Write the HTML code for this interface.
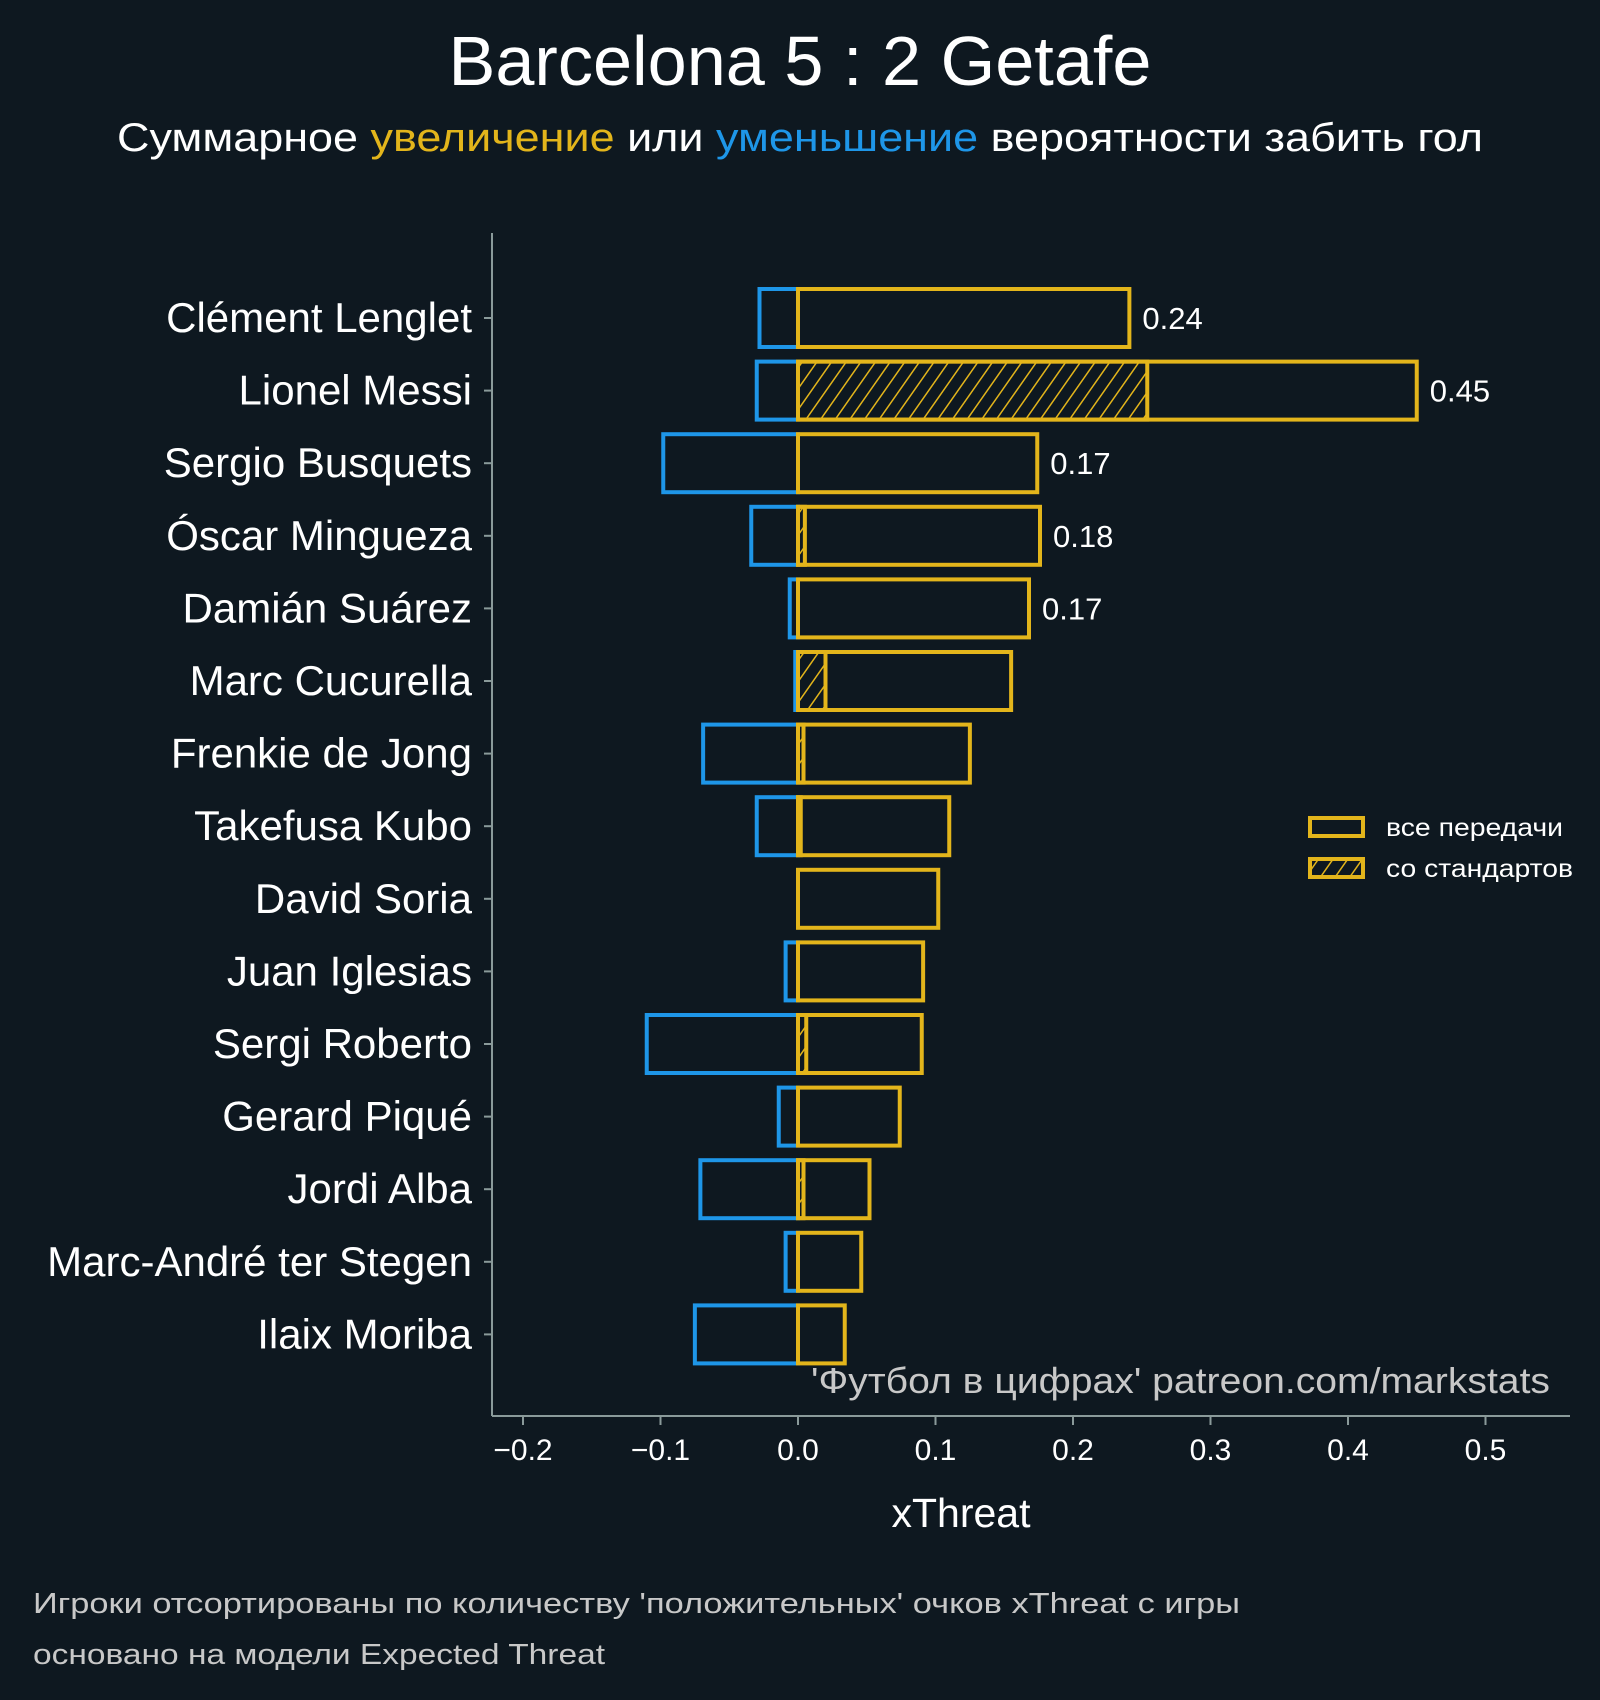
<!DOCTYPE html>
<html><head><meta charset="utf-8"><style>
body{margin:0;background:#0e1820;}
svg{display:block;font-family:"Liberation Sans",sans-serif;}
</style></head><body>
<svg id="chart" width="1600" height="1700" viewBox="0 0 1600 1700" xmlns="http://www.w3.org/2000/svg">
<defs>
<pattern id="hatch" patternUnits="userSpaceOnUse" width="12" height="12" patternTransform="rotate(35)">
<line x1="0" y1="0" x2="0" y2="12" stroke="#e3b51b" stroke-width="3"/>
</pattern>
</defs>
<rect width="1600" height="1700" fill="#0e1820"/>
<text x="800" y="85" text-anchor="middle" fill="#ffffff" font-size="70" textLength="703" lengthAdjust="spacingAndGlyphs">Barcelona 5 : 2 Getafe</text>
<text x="800" y="151" text-anchor="middle" fill="#ffffff" font-size="40" textLength="1366" lengthAdjust="spacingAndGlyphs">Суммарное <tspan fill="#e3b51b">увеличение</tspan> или <tspan fill="#1e96e8">уменьшение</tspan> вероятности забить гол</text>
<g id="plot"></g>
<line x1="492" y1="233" x2="492" y2="1416" stroke="#8a9a9a" stroke-width="2"/>
<line x1="492" y1="1416" x2="1570" y2="1416" stroke="#8a9a9a" stroke-width="2"/>
<text x="1550" y="1393" text-anchor="end" fill="#c8c8c8" font-size="36" textLength="739" lengthAdjust="spacingAndGlyphs">'Футбол в цифрах' patreon.com/markstats</text>
<text x="961" y="1527" text-anchor="middle" fill="#ffffff" font-size="41">xThreat</text>
<text x="33" y="1613" fill="#c8c8c8" font-size="29" textLength="1207" lengthAdjust="spacingAndGlyphs">Игроки отсортированы по количеству 'положительных' очков xThreat с игры</text>
<text x="33" y="1664" fill="#c8c8c8" font-size="29" textLength="572" lengthAdjust="spacingAndGlyphs">основано на модели Expected Threat</text>
<g>
<rect x="1310" y="818" width="53" height="18" fill="none" stroke="#e3b51b" stroke-width="4"/>
<text x="1386" y="836" fill="#ffffff" font-size="25" textLength="177" lengthAdjust="spacingAndGlyphs">все передачи</text>
<rect x="1310" y="859" width="53" height="18" fill="url(#hatch)" stroke="#e3b51b" stroke-width="4"/>
<text x="1386" y="877" fill="#ffffff" font-size="25" textLength="187" lengthAdjust="spacingAndGlyphs">со стандартов</text>
</g>
</svg>
<script>
const players=["Clément Lenglet","Lionel Messi","Sergio Busquets","Óscar Mingueza","Damián Suárez","Marc Cucurella","Frenkie de Jong","Takefusa Kubo","David Soria","Juan Iglesias","Sergi Roberto","Gerard Piqué","Jordi Alba","Marc-André ter Stegen","Ilaix Moriba"];
const positive=[0.241,0.450,0.174,0.176,0.168,0.155,0.125,0.110,0.102,0.091,0.090,0.074,0.052,0.046,0.034];
const negative=[-0.028,-0.030,-0.098,-0.034,-0.006,-0.002,-0.069,-0.030,0,-0.009,-0.110,-0.014,-0.071,-0.009,-0.075];
const setPieces=[0,0.254,0,0.005,0,0.020,0.004,0.002,0,0,0.006,0,0.004,0,0];
const labels=["0.24","0.45","0.17","0.18","0.17","","","","","","","","","",""];
const ticks=[-0.2,-0.1,0.0,0.1,0.2,0.3,0.4,0.5];
const tickLabels=["−0.2","−0.1","0.0","0.1","0.2","0.3","0.4","0.5"];

const NS="http://www.w3.org/2000/svg";
const g=document.getElementById('plot');
const xs=v=>798+v*1375;
const ys=i=>318+i*72.6;
const bh=58;
function mk(tag,attrs){const e=document.createElementNS(NS,tag);for(const k in attrs)e.setAttribute(k,attrs[k]);g.appendChild(e);return e;}
function bar(v,i,color,fill){const a=xs(0),b=xs(v);return mk('rect',{x:Math.min(a,b),y:ys(i)-bh/2,width:Math.max(Math.abs(b-a),0.5),height:bh,fill:fill,stroke:color,'stroke-width':4});}
players.forEach((p,i)=>{
  const y=ys(i);
  const t=mk('text',{x:472,y:y+14,'text-anchor':'end',fill:'#ffffff','font-size':42});
  t.textContent=p;
  
  
  const tk=mk('line',{x1:484,x2:492,y1:y,y2:y,stroke:'#8a9a9a','stroke-width':2});
  
  
  if(negative[i]<0){const n=bar(negative[i],i,'#1e96e8','none');
    
    }
  const ps=bar(positive[i],i,'#e3b51b','none');
  
  
  if(setPieces[i]>0){const s=bar(setPieces[i],i,'#e3b51b','url(#hatch)');
    
    }
  if(labels[i]){const l=mk('text',{x:xs(positive[i])+13,y:y+11,fill:'#ffffff','font-size':31});
    l.textContent=labels[i];
    
    }
});
ticks.forEach((v,i)=>{
  const x=xs(v);
  const l=mk('line',{x1:x,x2:x,y1:1416,y2:1425,stroke:'#8a9a9a','stroke-width':2});
  
  
  const t=mk('text',{x:x,y:1460,'text-anchor':'middle',fill:'#ffffff','font-size':30});
  t.textContent=tickLabels[i];
  
  
});
</script>
</body></html>
